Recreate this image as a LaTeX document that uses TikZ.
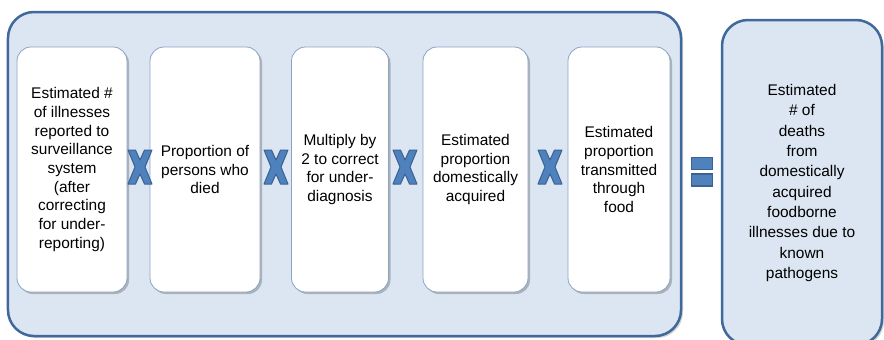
\documentclass[tikz,border=0pt]{standalone}
\usepackage{fontspec}
\setmainfont{Liberation Sans}
\usetikzlibrary{shadows}
\definecolor{panelfill}{HTML}{DCE6F2}
\definecolor{paneledge}{HTML}{41689B}
\definecolor{boxedge}{HTML}{8AA4C4}
\definecolor{opfill}{HTML}{4F81BD}
\definecolor{opedge}{HTML}{3A6294}
\begin{document}
\begin{tikzpicture}[x=1bp,y=-1bp,
  panel/.style={draw=paneledge, line width=2.5bp, fill=panelfill, rounded corners=26bp, inner sep=0,
    drop shadow={shadow xshift=2bp, shadow yshift=-2bp, fill=black!50, opacity=0.35}},
  stepbox/.style={draw=boxedge, line width=0.8bp, fill=white, rounded corners=14bp,
    minimum height=245bp, inner sep=0, align=center,
    font=\fontsize{15.5}{18.75}\selectfont,
    drop shadow={shadow xshift=2bp, shadow yshift=-2bp, fill=black!60, opacity=0.4}},
  resultbox/.style={panel, minimum width=160bp, minimum height=325bp},
  restext/.style={align=center, font=\fontsize{15.5}{20.4}\selectfont, inner sep=0},
  eqbar/.style={draw=opedge, fill=opfill, line width=1.5bp, minimum width=21bp, minimum height=12bp, inner sep=0},
  timesmark/.pic={\draw[draw=opedge, fill=opfill, line width=1bp, line join=round]
    (-12,-17) -- (-4.5,-17) -- (0,-7) -- (4.5,-17) -- (12,-17) -- (5,0) -- (12,17)
    -- (4.5,17) -- (0,7) -- (-4.5,17) -- (-12,17) -- (-5,0) -- cycle;}
]
\useasboundingbox (0,0) rectangle (884,339);
\clip (0,0) rectangle (884,339);

% outer panel
\node[panel, minimum width=673bp, minimum height=324bp] (outer) at (344.5,174) {};

% step boxes
\node[stepbox, minimum width=110bp] (b1) at (72,169.5)
  {Estimated \#\\of illnesses\\reported to\\surveillance\\system\\(after\\correcting\\for under-\\reporting)};
\node[stepbox, minimum width=110bp] (b2) at (205,169.5)
  {Proportion of\\persons who\\died};
\node[stepbox, minimum width=97bp] (b3) at (340,169.5)
  {Multiply by\\2 to correct\\for under-\\diagnosis};
\node[stepbox, minimum width=105bp] (b4) at (475.5,169.5)
  {Estimated\\proportion\\domestically\\acquired};
\node[stepbox, minimum width=102bp] (b5) at (619,169.5)
  {Estimated\\proportion\\transmitted\\through\\food};

% multiplication marks
\pic at (140,167) {timesmark};
\pic at (276,167) {timesmark};
\pic at (405,167) {timesmark};
\pic at (550,167) {timesmark};

% equals sign
\node[eqbar] (eq1) at (702,163.5) {};
\node[eqbar] (eq2) at (702,180) {};

% result panel
\node[resultbox] (res) at (802,182.5) {};
\node[restext] (restxt) at (802,183)
  {Estimated\\\# of\\deaths\\from\\domestically\\acquired\\foodborne\\illnesses due to\\known\\pathogens};
\end{tikzpicture}
\end{document}
